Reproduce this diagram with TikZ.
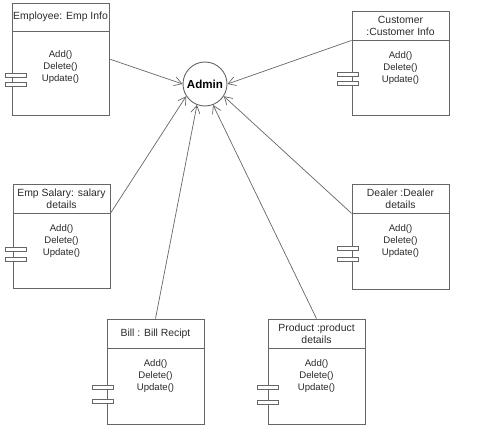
\documentclass[tikz,border=0pt]{standalone}
\usepackage{fontspec}
\setmainfont{Liberation Sans}
\usepackage{xcolor}
\usetikzlibrary{arrows.meta,positioning}
\definecolor{lineGray}{HTML}{666666}
\definecolor{textGray}{HTML}{2A2A2A}

\begin{document}
\begin{tikzpicture}[x=1pt, y=-1pt,
  box/.style={draw=lineGray, line width=0.8pt, minimum width=97pt, inner sep=0pt},
  head/.style={draw=lineGray, line width=0.8pt, minimum width=97pt, minimum height=29pt, inner sep=0pt, align=center, text=textGray, font=\fontsize{10.4}{12}\selectfont},
  ops/.style={align=center, inner sep=0pt, text=textGray, font=\fontsize{9.6}{12}\selectfont},
  port/.style={draw=lineGray, line width=0.8pt, fill=white, minimum width=21pt, minimum height=4pt, inner sep=0pt},
  link/.style={draw=lineGray, line width=0.7pt, -{Straight Barb[length=7.5pt,width=9pt]}}]
\useasboundingbox (0,0) rectangle (497,425);

% admin
\node[circle, draw=lineGray, line width=0.9pt, minimum size=44pt, inner sep=0pt, text=black, font=\bfseries\fontsize{11.6}{13}\selectfont] (admin) at (205,84) {Admin};

% employee
\node[box, minimum height=112pt] (emp) at (60.5,59) {};
\node[head, minimum height=28pt, anchor=north] (empHead) at (emp.north) {Employee: Emp Info};
\node[ops, below=19pt of empHead] (empOps) {Add()\\Delete()\\Update()};
\node[port] (empPortA) at ([shift={(4,44)}]empHead.south west) {};
\node[port] (empPortB) at ([shift={(4,53)}]empHead.south west) {};

% customer
\node[box, minimum height=104pt] (cust) at (400.5,63) {};
\node[head, anchor=north] (custHead) at (cust.north) {Customer\\:Customer Info};
\node[ops, below=11pt of custHead] (custOps) {Add()\\Delete()\\Update()};
\node[port] (custPortA) at ([shift={(-4,34.5)}]custHead.south west) {};
\node[port] (custPortB) at ([shift={(-4,43.5)}]custHead.south west) {};

% emp salary
\node[box, minimum height=104pt] (sal) at (61.5,236) {};
\node[head, anchor=north] (salHead) at (sal.north) {Emp Salary: salary\\details};
\node[ops, below=11pt of salHead] (salOps) {Add()\\Delete()\\Update()};
\node[port] (salPortA) at ([shift={(3.5,35.5)}]salHead.south west) {};
\node[port] (salPortB) at ([shift={(3.5,46)}]salHead.south west) {};

% dealer
\node[box, minimum height=105pt] (deal) at (400.5,236.5) {};
\node[head, anchor=north] (dealHead) at (deal.north) {Dealer :Dealer\\details};
\node[ops, below=11pt of dealHead] (dealOps) {Add()\\Delete()\\Update()};
\node[port] (dealPortA) at ([shift={(-4,35)}]dealHead.south west) {};
\node[port] (dealPortB) at ([shift={(-4,46)}]dealHead.south west) {};

% bill
\node[box, minimum height=105pt] (bill) at (155.5,371.5) {};
\node[head, anchor=north] (billHead) at (bill.north) {Bill : Bill Recipt};
\node[ops, below=11pt of billHead] (billOps) {Add()\\Delete()\\Update()};
\node[port] (billPortA) at ([shift={(-3.5,38.5)}]billHead.south west) {};
\node[port] (billPortB) at ([shift={(-3.5,53)}]billHead.south west) {};

% product
\node[box, minimum height=105pt] (prod) at (316.5,371.5) {};
\node[head, anchor=north] (prodHead) at (prod.north) {Product :product\\details};
\node[ops, below=11pt of prodHead] (prodOps) {Add()\\Delete()\\Update()};
\node[port] (prodPortA) at ([shift={(0.5,39)}]prodHead.south west) {};
\node[port] (prodPortB) at ([shift={(0.5,53.5)}]prodHead.south west) {};

% links
\draw[link] (emp.east) -- (admin.west);
\draw[link] (custHead.south west) -- (admin.east);
\draw[link] (salHead.south east) -- (admin.213);
\draw[link] (dealHead.south west) -- (admin.327);
\draw[link] (bill.north) -- (admin.249);
\draw[link] (prod.north) -- (admin.291);
\end{tikzpicture}
\end{document}
